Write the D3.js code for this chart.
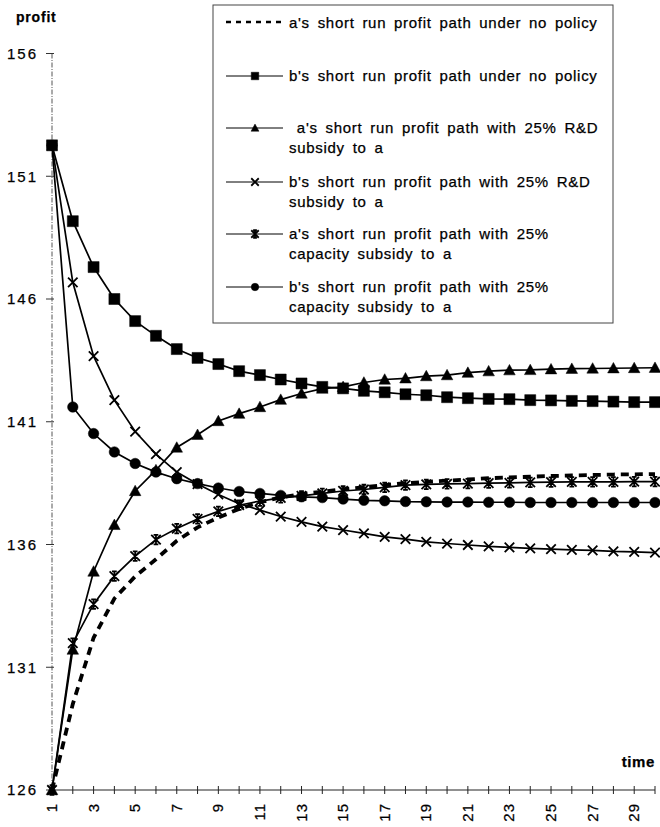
<!DOCTYPE html>
<html><head><meta charset="utf-8">
<script src="https://cdn.jsdelivr.net/npm/d3@7"></script>
<style>
body{margin:0;background:#fff;}
svg{display:block;font-family:"Liberation Sans",Arial,sans-serif;}
svg text{stroke:#000;stroke-width:0.25px;}
</style></head>
<body>
<svg id="chart" width="660" height="827"></svg>
<script>
const time = [1,2,3,4,5,6,7,8,9,10,11,12,13,14,15,16,17,18,19,20,21,22,23,24,25,26,27,28,29,30];
const xTickLabels = [1,3,5,7,9,11,13,15,17,19,21,23,25,27,29];
const yTicks = [126,131,136,141,146,151,156];

const aNoPolicy = [126,129.5,132.2,133.8,134.7,135.4,136.15,136.7,137.1,137.45,137.72,137.92,138.05,138.15,138.25,138.33,138.42,138.5,138.55,138.6,138.65,138.7,138.73,138.76,138.79,138.81,138.83,138.85,138.86,138.87];
const bNoPolicy = [152.26,149.17,147.3,146.0,145.1,144.5,143.96,143.6,143.35,143.06,142.9,142.72,142.56,142.42,142.36,142.26,142.2,142.12,142.08,142.0,141.96,141.93,141.92,141.88,141.87,141.85,141.84,141.82,141.8,141.8];
const aRD = [126,131.72,134.9,136.8,138.18,139.03,139.95,140.47,141.03,141.33,141.6,141.9,142.15,142.35,142.42,142.6,142.72,142.77,142.86,142.9,143.0,143.06,143.1,143.11,143.14,143.16,143.17,143.18,143.19,143.2];
const bRD = [152.26,146.68,143.67,141.88,140.6,139.68,138.95,138.46,138.04,137.66,137.4,137.14,136.92,136.73,136.59,136.45,136.31,136.22,136.11,136.04,135.98,135.92,135.88,135.84,135.81,135.78,135.76,135.72,135.7,135.67];
const aCap = [126,131.98,133.57,134.71,135.53,136.2,136.65,137.04,137.35,137.6,137.77,137.9,137.98,138.08,138.18,138.24,138.33,138.42,138.45,138.47,138.48,138.5,138.51,138.53,138.54,138.55,138.55,138.55,138.56,138.56];
const bCap = [152.26,141.6,140.52,139.77,139.3,138.95,138.68,138.48,138.3,138.16,138.08,138.0,137.94,137.91,137.85,137.8,137.78,137.75,137.74,137.73,137.73,137.72,137.72,137.71,137.71,137.71,137.71,137.71,137.71,137.71];

const seriesNames = [
  ["a's short run profit path under no policy"],
  ["b's short run profit path under no policy"],
  [" a's short run profit path with 25% R&D", "subsidy to a"],
  ["b's short run profit path with 25% R&D", "subsidy to a"],
  ["a's short run profit path with 25%", "capacity subsidy to a"],
  ["b's short run profit path with 25%", "capacity subsidy to a"]
];
const seriesValues = [aNoPolicy, bNoPolicy, aRD, bRD, aCap, bCap];
const seriesMarkers = ["none","square","triangle","x","asterisk","circle"];

const svg = d3.select("#chart");
const x = d3.scaleLinear().domain([1,30]).range([52,655]);
const y = d3.scaleLinear().domain([126,156]).range([790,53.5]);

function markerPath(type, s){
  const h = s/2;
  if(type==="square") return `M${-h},${-h}H${h}V${h}H${-h}Z`;
  if(type==="triangle") return `M0,${-h*1.05}L${h*1.05},${h*0.85}L${-h*1.05},${h*0.85}Z`;
  if(type==="circle") return d3.symbol(d3.symbolCircle, Math.PI*h*h)();
  if(type==="x") return `M${-h},${-h}L${h},${h}M${-h},${h}L${h},${-h}`;
  if(type==="asterisk") return `M${-h},${-h}L${h},${h}M${-h},${h}L${h},${-h}M0,${-h}V${h}M${-h*0.5},${-h}H${h*0.5}M${-h*0.5},${h}H${h*0.5}`;
  return "";
}
function drawMarker(g, type, cx, cy, s){
  const stroke = (type==="x"||type==="asterisk");
  g.append("path").attr("d", markerPath(type,s))
    .attr("transform",`translate(${cx},${cy})`)
    .attr("fill", stroke ? "none" : "#000")
    .attr("stroke", "#000")
    .attr("stroke-width", stroke ? 1.8 : 0.5);
}

// axes
const yAxisG = svg.append("g");
yAxisG.append("line").attr("x1",x(1)).attr("x2",x(1)).attr("y1",y(156)).attr("y2",y(126))
  .attr("stroke","#555").attr("stroke-width",1).attr("stroke-dasharray","5,1.5,1,1.5");
yAxisG.selectAll("line.tk").data(yTicks).join("line").attr("class","tk")
  .attr("x1",x(1)-6).attr("x2",x(1)+2).attr("y1",d=>y(d)).attr("y2",d=>y(d))
  .attr("stroke","#333").attr("stroke-width",1);
yAxisG.selectAll("text").data(yTicks).join("text")
  .attr("x",38).attr("y",d=>y(d)).attr("dy","0.36em").attr("text-anchor","end")
  .style("font-size","15px").style("letter-spacing","2px").text(d=>d);

const xAxisG = svg.append("g");
xAxisG.append("line").attr("x1",x(1)).attr("x2",x(30)).attr("y1",y(126)).attr("y2",y(126))
  .attr("stroke","#222").attr("stroke-width",1);
xAxisG.selectAll("line.tk").data(time).join("line").attr("class","tk")
  .attr("x1",d=>x(d)).attr("x2",d=>x(d)).attr("y1",y(126)-4).attr("y2",y(126)+4)
  .attr("stroke","#222").attr("stroke-width",1);
xAxisG.selectAll("text").data(xTickLabels).join("text")
  .attr("transform",d=>`translate(${x(d)+5},803) rotate(-90)`)
  .attr("text-anchor","end").style("font-size","15px").style("letter-spacing","1px").text(d=>d);

svg.append("text").attr("x",16).attr("y",22).style("font-size","14px").style("font-weight","bold")
  .style("letter-spacing","0.8px").text("profit");
svg.append("text").attr("x",655).attr("y",767).attr("text-anchor","end").style("font-size","15px")
  .style("font-weight","bold").style("letter-spacing","0.6px").text("time");

// lines
const line = d3.line().x((d,i)=>x(time[i])).y(d=>y(d));
seriesValues.forEach((vals,k)=>{
  const g = svg.append("g");
  if(seriesMarkers[k]==="none"){
    g.append("path").attr("d",line(vals)).attr("fill","none").attr("stroke","#000")
      .attr("stroke-width",3.8).attr("stroke-dasharray","8,6");
  } else {
    g.append("path").attr("d",line(vals)).attr("fill","none").attr("stroke","#000").attr("stroke-width",1.7);
    const m = seriesMarkers[k];
    vals.forEach((v,i)=>drawMarker(g, m, x(time[i]), y(v), m==="circle"?10.5:(m==="x"||m==="asterisk"?9.5:11)));
  }
});

// legend
const lg = svg.append("g");
lg.append("rect").attr("x",213).attr("y",5).attr("width",400).attr("height",318)
  .attr("fill","#fff").attr("stroke","#444").attr("stroke-width",1);
const rowY = [23,76,128,182,234,287];
seriesNames.forEach((lines,k)=>{
  const yy = rowY[k];
  if(seriesMarkers[k]==="none"){
    lg.append("line").attr("x1",226).attr("x2",283).attr("y1",yy-1).attr("y2",yy-1)
      .attr("stroke","#000").attr("stroke-width",2.5).attr("stroke-dasharray","5,5");
  } else {
    lg.append("line").attr("x1",226).attr("x2",283).attr("y1",yy).attr("y2",yy)
      .attr("stroke","#000").attr("stroke-width",1);
    drawMarker(lg, seriesMarkers[k], 255, yy, 7.5);
  }
  lines.forEach((t,j)=>{
    lg.append("text").attr("x",289).attr("y",yy+j*20).attr("dy","0.36em")
      .style("font-size","15px").style("letter-spacing","0.7px").style("word-spacing","3px")
      .style("white-space","pre").text(t);
  });
});
</script>
</body></html>
